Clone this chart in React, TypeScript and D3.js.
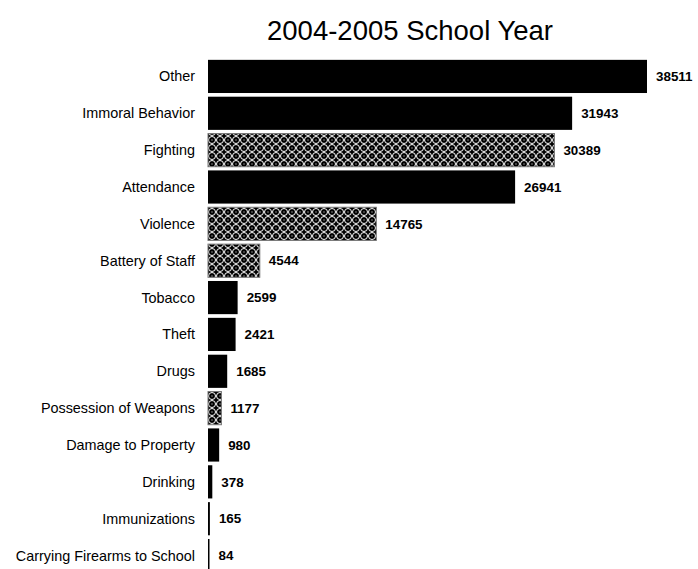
import React from "react";
import * as d3 from "d3";

const categories = [
  "Other",
  "Immoral Behavior",
  "Fighting",
  "Attendance",
  "Violence",
  "Battery of Staff",
  "Tobacco",
  "Theft",
  "Drugs",
  "Possession of Weapons",
  "Damage to Property",
  "Drinking",
  "Immunizations",
  "Carrying Firearms to School",
];
const values = [38511, 31943, 30389, 26941, 14765, 4544, 2599, 2421, 1685, 1177, 980, 378, 165, 84];
const patterned = [false, false, true, false, true, true, false, false, false, true, false, false, false, false];
const title = "2004-2005 School Year";

export default function App() {
  const W = 698, H = 569;
  const left = 208, right = 647;
  const x = d3.scaleLinear().domain([0, 38511]).range([left, right]);
  const y = d3.scaleBand<string>().domain(categories).range([58, 574]).paddingInner(0.1).paddingOuter(0.05);
  const font = "Liberation Sans, Arial, sans-serif";
  return (
    <svg width={W} height={H} style={{ position: "absolute", left: 0, top: 0 }}>
      <defs>
        <pattern id="circ" width={8} height={8} patternUnits="userSpaceOnUse">
          <rect width={8} height={8} fill="#000" />
          <circle cx={4} cy={4} r={3.5} fill="none" stroke="#fff" strokeWidth={1} />
          <rect x={3.5} y={3.5} width={1} height={1} fill="#fff" />
        </pattern>
      </defs>
      <rect width={W} height={H} fill="#fff" />
      <text x={410} y={40} textAnchor="middle" fontFamily={font} fontSize={27.5} fill="#000">
        {title}
      </text>
      {categories.map((c, i) => {
        const yy = y(c)!;
        const bw = Math.max(x(values[i]) - left, 1.5);
        const cy = yy + y.bandwidth() / 2;
        return (
          <g key={c}>
            <rect
              x={left}
              y={yy}
              width={bw}
              height={y.bandwidth()}
              fill={patterned[i] ? "url(#circ)" : "#000"}
              stroke={patterned[i] ? "#777" : "none"}
              strokeWidth={1}
            />
            <text x={195} y={cy} dy="0.35em" textAnchor="end" fontFamily={font} fontSize={14.4} fill="#000">
              {c}
            </text>
            <text x={left + bw + 9} y={cy} dy="0.35em" fontFamily={font} fontSize={13.4} fontWeight="bold" fill="#000">
              {values[i]}
            </text>
          </g>
        );
      })}
    </svg>
  );
}
